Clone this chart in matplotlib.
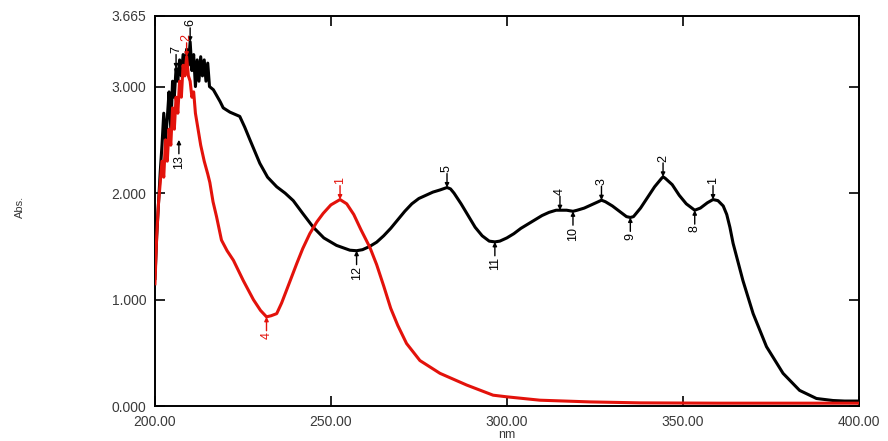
import matplotlib
matplotlib.use('Agg')
import matplotlib.pyplot as plt

# ─── Data ──────────────────────────────────────────────────────
black_nm = [200.0, 200.5, 201.0, 201.5, 202.0, 202.5, 203.0, 203.5, 204.0, 204.5,
            205.0, 205.5, 206.0, 206.5, 207.0, 207.5, 208.0, 208.5, 209.0, 209.5,
            210.0, 210.5, 211.0, 211.5, 212.0, 212.5, 213.0, 213.5, 214.0, 214.5,
            215.0, 215.5, 216.6, 218.5, 219.4, 221.3, 224.1, 225.5, 227.0, 229.8,
            232.0, 234.6, 237.0, 239.3, 242.0, 245.0, 248.0, 251.6, 255.4, 257.3,
            259.0, 261.0, 263.0, 265.0, 267.0, 269.0, 271.0, 273.0, 275.0, 277.0,
            279.0, 281.0, 283.0, 284.0, 285.0, 287.0, 289.0, 291.0, 293.0, 295.0,
            296.6, 298.0, 300.0, 302.0, 304.0, 306.0, 308.0, 310.0, 312.0, 314.0,
            315.1, 317.0, 318.8, 320.0, 322.0, 324.0, 326.0, 326.9, 328.0, 330.0,
            332.0, 334.0, 335.1, 336.0, 338.0, 340.0, 342.0, 344.0, 344.4, 345.0,
            347.0, 349.0, 351.0, 353.4, 355.0, 357.0, 358.6, 360.0, 361.5, 362.5,
            363.4, 364.3, 367.1, 370.0, 373.8, 378.5, 383.2, 388.0, 392.7, 396.0,
            400.0]
black_abs = [1.20, 1.60, 1.90, 2.20, 2.45, 2.75, 2.50, 2.70, 2.95, 2.60,
             3.05, 2.90, 3.17, 3.05, 3.25, 3.10, 3.30, 3.15, 3.35, 3.20,
             3.42, 3.15, 3.30, 3.00, 3.25, 3.05, 3.28, 3.10, 3.25, 3.05,
             3.22, 3.00, 2.97, 2.86, 2.80, 2.76, 2.72, 2.62, 2.50, 2.28,
             2.15, 2.06, 2.00, 1.93, 1.81, 1.68, 1.58, 1.51, 1.465, 1.46,
             1.47, 1.50, 1.54, 1.60, 1.67, 1.75, 1.83, 1.90, 1.95, 1.98,
             2.01, 2.03, 2.053, 2.04, 2.00, 1.90, 1.79, 1.68, 1.60, 1.55,
             1.543, 1.55, 1.58, 1.62, 1.67, 1.71, 1.75, 1.79, 1.82, 1.84,
             1.84, 1.84, 1.83, 1.84, 1.86, 1.89, 1.92, 1.934, 1.92, 1.88,
             1.83, 1.78, 1.772, 1.78, 1.86, 1.96, 2.06, 2.14, 2.153, 2.14,
             2.08, 1.98, 1.90, 1.84, 1.86, 1.91, 1.94, 1.93, 1.88, 1.80,
             1.68, 1.53, 1.18, 0.87, 0.56, 0.31, 0.15, 0.074, 0.055, 0.05,
             0.05]

red_nm = [200.0, 200.5, 201.0, 201.5, 202.0, 202.5, 203.0, 203.5, 204.0, 204.5,
          205.0, 205.5, 206.0, 206.5, 207.0, 207.5, 208.0, 208.5, 209.0, 209.5,
          210.0, 210.5, 211.0, 211.5, 212.0, 213.0, 214.0, 215.0, 215.6, 216.5,
          217.5, 218.9, 220.5, 222.3, 225.1, 228.0, 230.0, 231.7, 233.0, 234.6,
          236.0, 237.4, 240.3, 242.0, 244.0, 246.0, 247.8, 250.0, 252.6, 254.5,
          256.5, 258.5, 261.1, 263.0, 265.0, 267.0, 269.0, 271.5, 275.3, 281.0,
          288.6, 296.1, 299.9, 309.4, 323.6, 337.8, 360.0, 400.0]
red_abs = [1.15, 1.60, 1.90, 2.10, 2.30, 2.15, 2.50, 2.30, 2.60, 2.45,
           2.80, 2.60, 2.90, 2.75, 3.05, 2.90, 3.20, 3.10, 3.28, 3.10,
           3.05, 2.90, 2.95, 2.75, 2.65, 2.45, 2.30, 2.18, 2.10, 1.92,
           1.78, 1.56, 1.46, 1.37, 1.18, 1.00, 0.90, 0.84, 0.85, 0.87,
           0.97, 1.09, 1.34, 1.48, 1.62, 1.73, 1.81, 1.89, 1.94, 1.90,
           1.80, 1.66, 1.49, 1.33, 1.13, 0.92, 0.76, 0.59, 0.43, 0.31,
           0.20, 0.105, 0.09, 0.058, 0.042, 0.033, 0.03, 0.03]

# peak / valley picks: (label, nm, abs, is_peak)
black_picks = [('1', 358.6, 1.94, True), ('2', 344.4, 2.153, True),
               ('3', 326.9, 1.934, True), ('4', 315.1, 1.84, True),
               ('5', 283.0, 2.053, True), ('6', 210.0, 3.42, True),
               ('7', 206.0, 3.17, True),
               ('8', 353.4, 1.84, False), ('9', 335.1, 1.772, False),
               ('10', 318.8, 1.83, False), ('11', 296.6, 1.543, False),
               ('12', 257.3, 1.46, False), ('13', 206.8, 2.50, False)]
red_picks = [('1', 252.6, 1.94, True), ('2', 209.0, 3.28, True),
             ('4', 231.7, 0.84, False)]

x_ticks = [200, 250, 300, 350, 400]
y_ticks = [0.0, 1.0, 2.0, 3.0, 3.665]

BLACK = '#000000'
RED = '#e3120b'
TICK_GREY = '#3a3a3a'

# ─── Figure ────────────────────────────────────────────────────
plt.rcParams['font.family'] = ['Liberation Sans', 'DejaVu Sans']
fig = plt.figure(figsize=(8.88, 4.41), dpi=100)
ax = fig.add_axes([0.1745, 0.0785, 0.7925, 0.886])

ax.plot(black_nm, black_abs, color=BLACK, lw=2.2, zorder=3)
ax.plot(red_nm, red_abs, color=RED, lw=2.2, zorder=4)


def pick(lbl, x, y, peak, color):
    sign = 1 if peak else -1
    ax.annotate('', xy=(x, y), xytext=(0, sign * 10), textcoords='offset points',
                arrowprops=dict(arrowstyle='-|>', color=color, lw=1.0,
                                mutation_scale=6, shrinkA=0, shrinkB=0),
                zorder=5)
    ax.annotate(lbl, xy=(x, y), xytext=(0, sign * 11), textcoords='offset points',
                rotation=90, ha='center', va='bottom' if peak else 'top',
                fontsize=9, color=color, zorder=5)


for lbl, x, y, pk in black_picks:
    pick(lbl, x, y, pk, BLACK)
for lbl, x, y, pk in red_picks:
    pick(lbl, x, y, pk, RED)

ax.set_xlim(200, 400)
ax.set_ylim(0, 3.665)
ax.set_xticks(x_ticks)
ax.set_xticklabels([f'{v:.2f}' for v in x_ticks])
ax.set_yticks(y_ticks)
ax.set_yticklabels([f'{v:.3f}' for v in y_ticks])
ax.tick_params(direction='in', length=7, width=1.2, top=True, right=True,
               labelsize=10, labelcolor=TICK_GREY, pad=6)
for s in ax.spines.values():
    s.set_linewidth(1.4)

ax.set_xlabel('nm', fontsize=9, color=TICK_GREY, labelpad=0)
fig.text(0.023, 0.53, 'Abs.', rotation=90, fontsize=8, color=TICK_GREY,
         ha='center', va='center')

fig.savefig('out.png', dpi=100, facecolor='white')
